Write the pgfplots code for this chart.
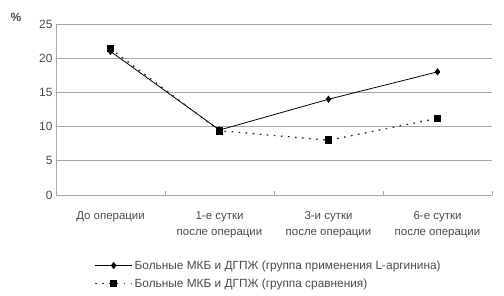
\documentclass[border=0pt]{standalone}
\usepackage{pgfplots}
\pgfplotsset{compat=1.18}
\usepackage{fontspec}
\setmainfont{Liberation Sans}
\definecolor{gridc}{HTML}{A8A8A8}
\definecolor{txt}{HTML}{4A4A4A}
\begin{document}
\begin{tikzpicture}
\useasboundingbox (-56bp,-101bp) rectangle (448bp,195bp);
\begin{axis}[
  at={(0,0)}, anchor=south west,
  scale only axis, width=436bp, height=171bp,
  xmin=-0.5, xmax=3.5, ymin=0, ymax=25,
  ytick={0,5,...,25},
  xtick={0,1,2,3},
  xticklabels={До операции,{1-е сутки\\после операции},{3-и сутки\\после операции},{6-е сутки\\после операции}},
  xticklabel style={align=center, font=\fontsize{11.5}{15.5}\selectfont, text=txt, yshift=-13.5pt},
  yticklabel style={font=\fontsize{12}{14}\selectfont, text=txt},
  /pgf/number format/assume math mode=true,
  axis x line*=bottom, axis y line*=left,
  axis line style={gridc, line width=0.8pt},
  ymajorgrids, grid style={gridc, line width=1pt},
  minor xtick={-0.5,0.5,1.5,2.5,3.5},
  major x tick style={draw=none},
  minor x tick style={gridc, line width=0.8pt},
  minor tick length=4pt,
  xtick pos=bottom, ytick pos=left,
  major tick length=3pt,
  ytick style={gridc, line width=0.8pt},
  clip=false,
  legend style={at={(axis description cs:0.088,-0.37)}, anchor=north west, draw=none, fill=none,
    font=\fontsize{11.9}{13}\selectfont, text=txt, row sep=4pt, inner sep=0pt, cells={anchor=west}},
  legend cell align=left,
  legend image code/.code={\draw[mark repeat=2,mark phase=2,#1] plot coordinates {(0cm,0cm) (0.65cm,0cm) (1.3cm,0cm)};},
]
\addplot[black, line width=0.8pt, mark=diamond*, mark size=3pt] coordinates {(0,21) (1,9.5) (2,14) (3,18)};
\addlegendentry{Больные МКБ и ДГПЖ (группа применения L-аргинина)}
\addplot[black!85, line width=1.3pt, dash pattern=on 1.6pt off 5.5pt, mark=square*, mark size=3.2pt, mark options={solid, black}] coordinates {(0,21.4) (1,9.4) (2,8) (3,11.2)};
\addlegendentry{Больные МКБ и ДГПЖ (группа сравнения)}
\node[font=\bfseries\fontsize{12}{13}\selectfont, text=txt] at (axis description cs:-0.092,1.04) {\%};
\end{axis}
\end{tikzpicture}
\end{document}
